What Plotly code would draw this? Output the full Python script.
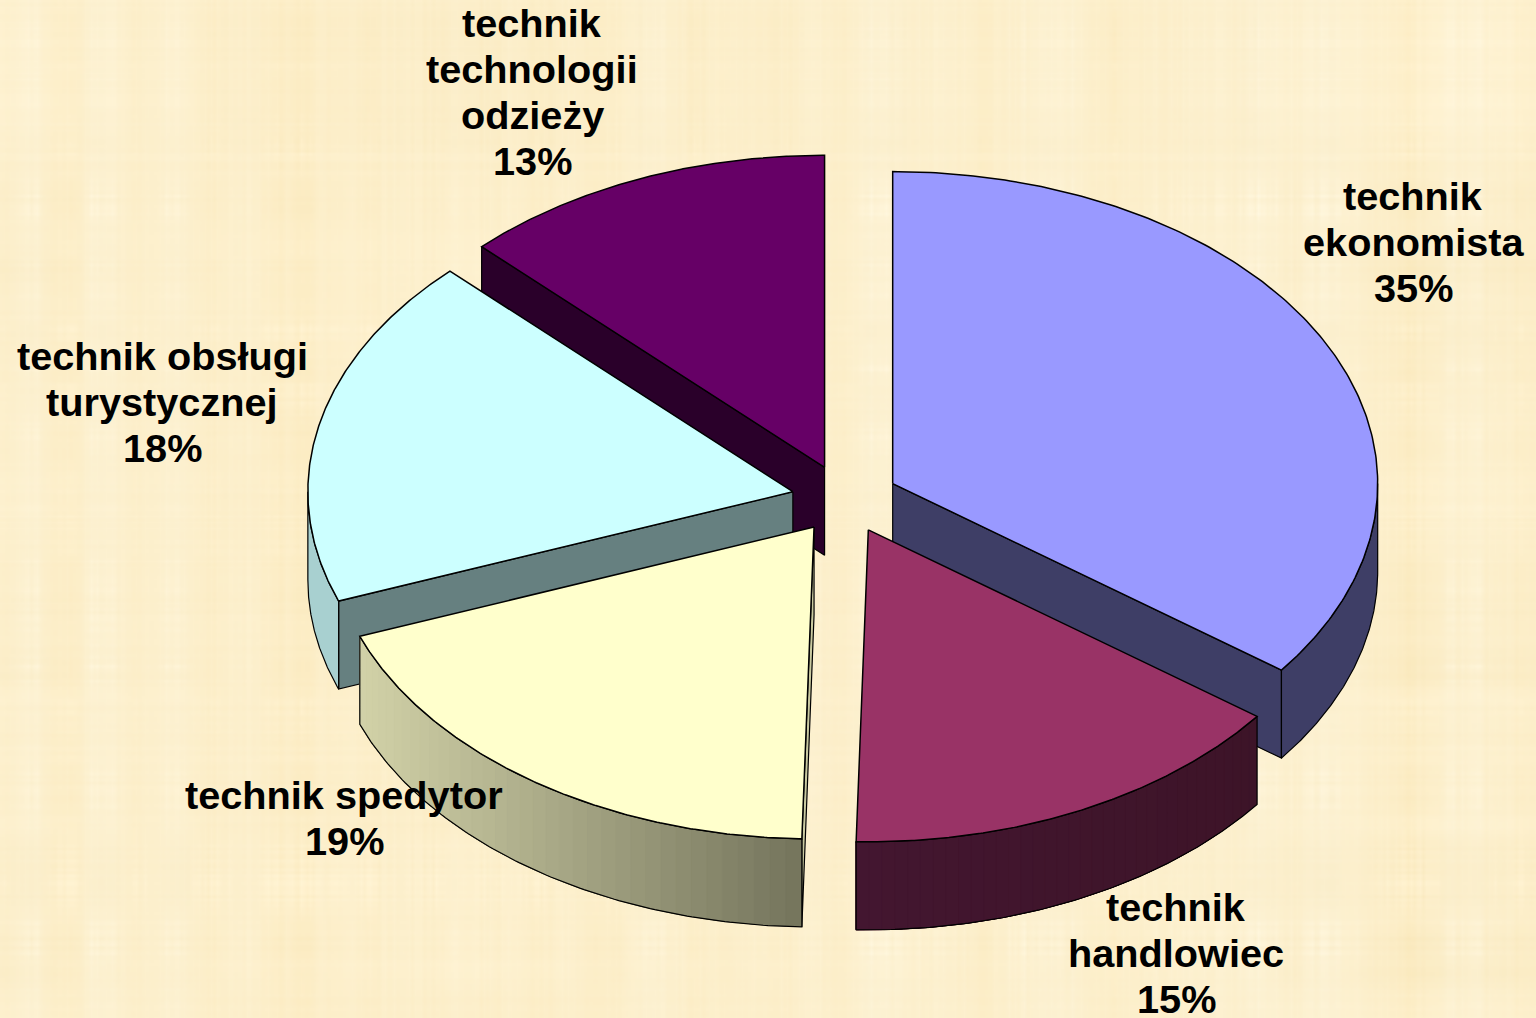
import base64
import struct
import zlib
import numpy as np
import plotly.graph_objects as go

# ---- data ----
categories = ["technik ekonomista", "technik handlowiec", "technik spedytor",
              "technik obsługi turystycznej", "technik technologii odzieży"]
shares = [35.2, 15.2, 18.9, 18.2, 12.5]
percent_labels = ["35%", "15%", "19%", "18%", "13%"]
label_lines = [["technik", "ekonomista"], ["technik", "handlowiec"],
               ["technik spedytor"], ["technik obsługi", "turystycznej"],
               ["technik", "technologii", "odzieży"]]

# ---- styles ----
top_colors = ["#9999FF", "#993366", "#FFFFCC", "#CCFFFF", "#660066"]
radial_colors = ["#3E3E66", "#40142C", "#C9C9A0", "#668080", "#2A002A"]
wall_left = ["#3E3E66", "#431630", "#D2D2A8", "#A8D0D0", "#2A002A"]
wall_right = ["#3E3E66", "#3D1428", "#74745C", "#A8D0D0", "#2A002A"]
label_x = [1413, 1176, 344, 162, 532]
label_top = [196, 907, 795, 356, 23]
draw_order = [4, 3, 0, 1, 2]

CX, CY, RX, RY, DEPTH, EXPLODE = 845.0, 499.0, 485.0, 312.0, 88.0, 0.11
LINE_STEP, FONT_PX = 46, 39.7


def texture():
    w, h = 512, 340
    def noise(n, s):
        return np.modf(np.abs(np.sin(np.arange(n) * s + 1.7)) * 43758.5453)[0]
    def smooth(a, k):
        return np.convolve(np.r_[a[-k:], a, a[:k]], np.ones(k) / k, "same")[k:-k]
    cols = noise(w, 12.9898)
    rows = noise(h, 78.233)
    cols_m = smooth(noise(w, 3.137), 14)
    rows_m = smooth(noise(h, 5.771), 14)
    cols_l = smooth(noise(w, 1.913), 60)
    rows_l = smooth(noise(h, 2.417), 50)
    patch = np.outer(rows_m - rows_m.mean(), cols_m - cols_m.mean()) * 150
    wide = np.outer(rows_l - rows_l.mean(), cols_l - cols_l.mean()) * 900
    weave = np.add.outer((rows - 0.5) * 3.0, (cols - 0.5) * 3.0) * (0.45 + np.clip(patch, 0, 3) * 0.4)
    warm = (cols_m - cols_m.mean())[None, :] * 30
    v = weave + patch * 0.5 + wide * 0.5
    img = np.empty((h, w, 3))
    img[:, :, 0] = 253.0 + v * 0.6
    img[:, :, 1] = 240.0 + v * 1.0 + warm * 0.4
    img[:, :, 2] = 205.0 + v * 2.0 + warm * 1.2
    img = np.clip(img, 0, 255).astype(np.uint8)
    raw = b"".join(b"\x00" + img[i].tobytes() for i in range(h))
    def chunk(t, d):
        return struct.pack(">I", len(d)) + t + d + struct.pack(">I", zlib.crc32(t + d))
    png = (b"\x89PNG\r\n\x1a\n" + chunk(b"IHDR", struct.pack(">IIBBBBB", w, h, 8, 2, 0, 0, 0))
           + chunk(b"IDAT", zlib.compress(raw, 9)) + chunk(b"IEND", b""))
    return "data:image/png;base64," + base64.b64encode(png).decode()


def mix(c1, c2, t):
    a = [int(c1[i:i + 2], 16) for i in (1, 3, 5)]
    b = [int(c2[i:i + 2], 16) for i in (1, 3, 5)]
    return "rgb(%d,%d,%d)" % tuple(round(p + (q - p) * t) for p, q in zip(a, b))


def rim(ax, ay, th):
    return ax + RX * np.sin(th), ay - RY * np.cos(th)


fig = go.Figure()


def poly(xs, ys, fill=None, line="#000000", width=1.0):
    fig.add_trace(go.Scatter(
        x=list(xs), y=list(ys), mode="lines", showlegend=False, hoverinfo="skip",
        fill="toself" if fill else None, fillcolor=fill,
        line=dict(color=line, width=width)))


total = sum(shares)
edges = np.radians(np.r_[0, np.cumsum(shares)] / total * 360)

for i in draw_order:
    a, b = edges[i], edges[i + 1]
    mid = (a + b) / 2
    ax = CX + EXPLODE * RX * np.sin(mid)
    ay = CY - EXPLODE * RY * np.cos(mid)

    # radial side faces that look towards the viewer
    for th, sign in ((a, -1), (b, 1)):
        if sign * np.sin(th) > 1e-6:
            ex, ey = rim(ax, ay, th)
            poly([ax, ex, ex, ax, ax], [ay, ey, ey + DEPTH, ay + DEPTH, ay],
                 radial_colors[i], "#000000", 1.2)

    # curved wall: only its front part (90° to 270°), painted from one end to the other
    w0, w1 = max(a, np.pi / 2), min(b, 3 * np.pi / 2)
    if w1 > w0:
        x0, x1 = rim(ax, ay, w0)[0], rim(ax, ay, w1)[0]
        n = 1 if wall_left[i] == wall_right[i] else 36
        ts = np.linspace(w0, w1, n + 1)
        # strip j reaches to the far end, so later strips cover the earlier edges
        for j in range(n):
            seg = np.linspace(ts[j], w1, 80)
            x, y = rim(ax, ay, seg)
            xm = rim(ax, ay, (ts[j] + ts[j + 1]) / 2)[0]
            t = (xm - min(x0, x1)) / abs(x1 - x0)
            c = mix(wall_left[i], wall_right[i], t)
            poly(np.r_[x, x[::-1], x[0]], np.r_[y, y[::-1] + DEPTH, y[0]], c, c, 0.1)
        ts = np.linspace(w0, w1, 120)
        x, y = rim(ax, ay, ts)
        poly(np.r_[x, x[::-1], x[0]], np.r_[y, y[::-1] + DEPTH, y[0]], None, "#000000", 1.2)

    # top face
    ts = np.linspace(a, b, 200)
    x, y = rim(ax, ay, ts)
    poly(np.r_[ax, x, ax], np.r_[ay, y, ay], top_colors[i], "#000000", 1.5)

annotations = []
for i in range(len(categories)):
    lines = label_lines[i] + [percent_labels[i]]
    for k, txt in enumerate(lines):
        annotations.append(dict(
            x=label_x[i], y=label_top[i] + k * LINE_STEP, text="<b>%s</b>" % txt,
            xref="x", yref="y", showarrow=False, xanchor="center", yanchor="middle",
            font=dict(family="Liberation Sans, Arial, sans-serif", size=FONT_PX, color="#000000")))

fig.update_layout(
    width=1536, height=1018, margin=dict(l=0, r=0, t=0, b=0),
    paper_bgcolor="#FCF0CD", plot_bgcolor="rgba(0,0,0,0)",
    xaxis=dict(range=[0, 1536], visible=False, fixedrange=True),
    yaxis=dict(range=[1018, 0], visible=False, fixedrange=True),
    annotations=annotations,
    images=[dict(source=texture(), xref="x", yref="y", x=0, y=0, sizex=1536, sizey=1018,
                 sizing="stretch", layer="below", xanchor="left", yanchor="top")],
)
fig.write_html("out.html", config={"displayModeBar": False},
               post_script="document.body.style.margin='0';document.documentElement.style.overflow='hidden';")
